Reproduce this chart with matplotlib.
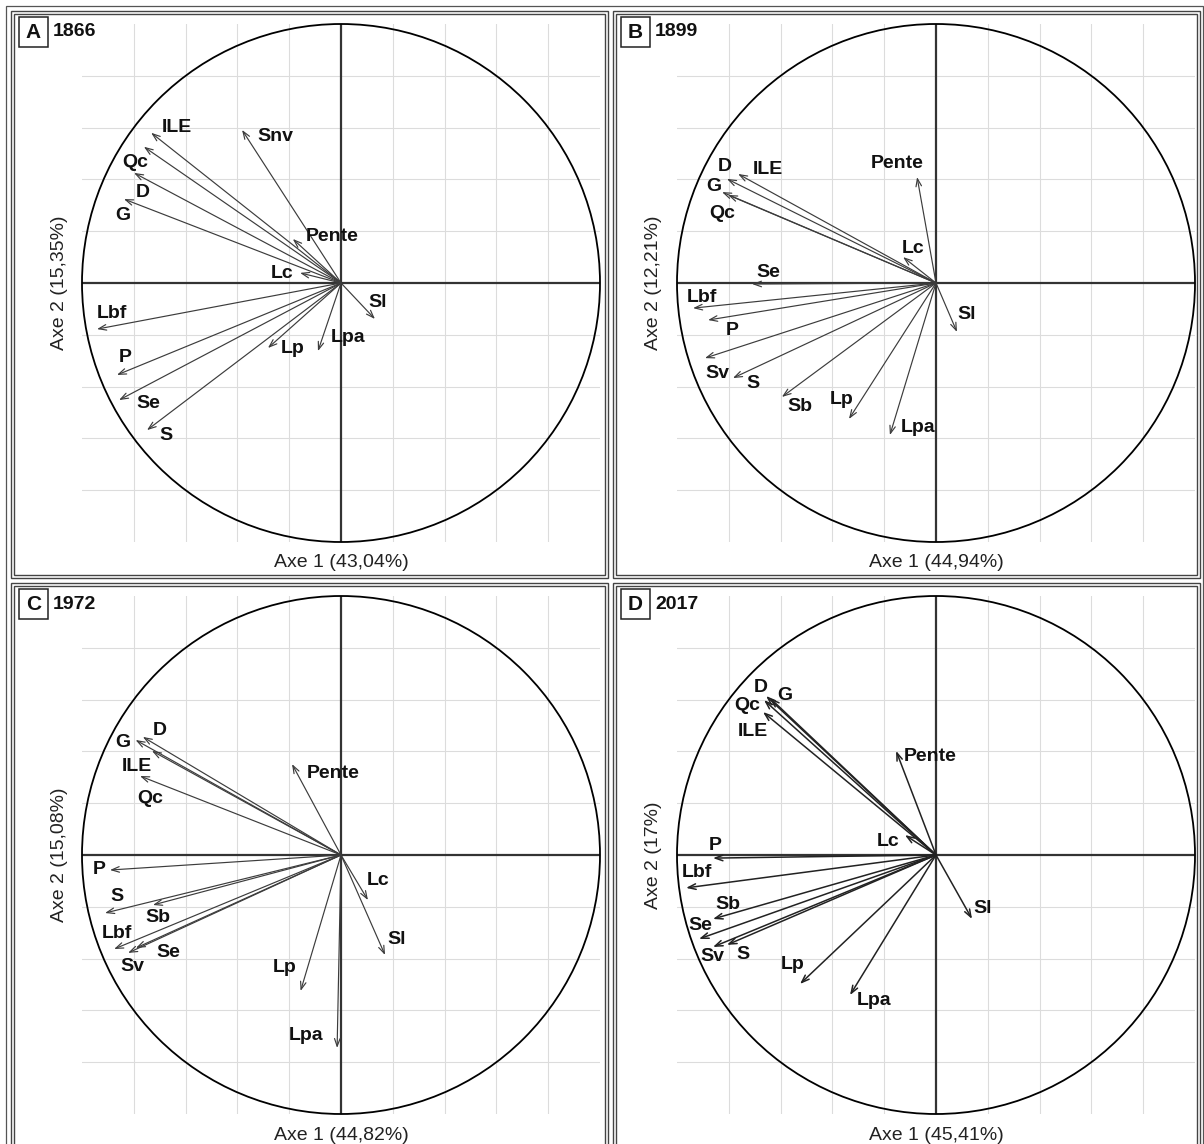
import numpy as np
import matplotlib
matplotlib.use("Agg")
import matplotlib.pyplot as plt
from matplotlib.patches import Rectangle, Circle

plt.rcParams['font.family'] = ['Liberation Sans', 'DejaVu Sans']

# ---- data (coordonnees des variables sur les axes 1 et 2) ----
letters = ["A", "B", "C", "D"]
years = ["1866", "1899", "1972", "2017"]
axe1_labels = ["Axe 1 (43,04%)", "Axe 1 (44,94%)", "Axe 1 (44,82%)", "Axe 1 (45,41%)"]
axe2_labels = ["Axe 2 (15,35%)", "Axe 2 (12,21%)", "Axe 2 (15,08%)", "Axe 2 (17%)"]

vars_a = ["ILE", "Snv", "Qc", "D", "G", "Pente", "Lc", "Sl", "Lpa", "Lp", "Lbf", "P", "Se", "S"]
x_a = [-0.733, -0.382, -0.761, -0.799, -0.838, -0.186, -0.158, 0.131, -0.089, -0.282, -0.942, -0.865, -0.857, -0.749]
y_a = [0.580, 0.591, 0.526, 0.425, 0.324, 0.170, 0.039, -0.139, -0.263, -0.251, -0.178, -0.355, -0.452, -0.568]

vars_b = ["ILE", "D", "G", "Qc", "Pente", "Lc", "Se", "Lbf", "P", "Sv", "S", "Sb", "Lp", "Lpa", "Sl"]
x_b = [-0.764, -0.807, -0.826, -0.803, -0.073, -0.127, -0.710, -0.938, -0.880, -0.892, -0.784, -0.595, -0.336, -0.178, 0.081]
y_b = [0.421, 0.402, 0.351, 0.340, 0.409, 0.100, -0.004, -0.097, -0.143, -0.290, -0.367, -0.440, -0.525, -0.587, -0.189]

vars_c = ["D", "G", "ILE", "Qc", "Pente", "P", "S", "Sb", "Lbf", "Sv", "Se", "Lc", "Sl", "Lp", "Lpa"]
x_c = [-0.765, -0.793, -0.730, -0.776, -0.189, -0.892, -0.911, -0.726, -0.876, -0.822, -0.792, 0.104, 0.170, -0.156, -0.015]
y_c = [0.456, 0.444, 0.402, 0.305, 0.351, -0.058, -0.224, -0.193, -0.363, -0.378, -0.359, -0.174, -0.386, -0.525, -0.745]

vars_d = ["D", "G", "Qc", "ILE", "Pente", "Lc", "P", "Lbf", "Sb", "Se", "Sv", "S", "Lp", "Lpa", "Sl"]
x_d = [-0.656, -0.641, -0.664, -0.668, -0.154, -0.120, -0.861, -0.965, -0.861, -0.915, -0.861, -0.807, -0.525, -0.332, 0.139]
y_d = [0.614, 0.606, 0.598, 0.552, 0.402, 0.077, -0.012, -0.127, -0.247, -0.324, -0.355, -0.347, -0.498, -0.541, -0.247]

panels = [(vars_a, x_a, y_a), (vars_b, x_b, y_b), (vars_c, x_c, y_c), (vars_d, x_d, y_d)]

# ---- placement des etiquettes (decalage en pixels depuis la pointe) ----
offsets = [
    {"ILE": (26, 5), "Snv": (33, -7), "Qc": (-9, -16), "D": (9, -20), "G": (-1, -16),
     "Pente": (39, 2), "Lc": (-18, -1), "Sl": (3, 17), "Lpa": (30, 14), "Lp": (25, 0),
     "Lbf": (15, 16), "P": (8, 17), "Se": (29, -3), "S": (19, -5)},
    {"ILE": (30, 4), "D": (-2, 12), "G": (-8, 6), "Qc": (-6, -19), "Pente": (-20, 14),
     "Lc": (10, 9), "Se": (16, 12), "Lbf": (9, 11), "P": (24, -10), "Sv": (12, -15),
     "S": (20, -5), "Sb": (18, -10), "Lp": (-7, 19), "Lpa": (28, 8), "Sl": (10, 17)},
    {"D": (17, 6), "G": (-13, -2), "ILE": (-15, -16), "Qc": (10, -22), "Pente": (41, -9),
     "P": (-11, 1), "S": (12, 17), "Sb": (5, -13), "Lbf": (3, 16), "Sv": (4, -14),
     "Se": (32, -5), "Lc": (10, 20), "Sl": (12, 15), "Lp": (-16, 23), "Lpa": (-31, 12)},
    {"D": (-5, 8), "G": (15, 3), "Qc": (-17, -5), "ILE": (-10, -19), "Pente": (34, -6),
     "Lc": (-17, -6), "P": (2, 13), "Lbf": (11, 15), "Sb": (15, 14), "Se": (1, 13),
     "Sv": (-1, -10), "S": (16, -10), "Lp": (-7, 19), "Lpa": (24, -5), "Sl": (11, 10)},
]

W, H = 1204, 1144
R = 259
centers = [(341, 283), (936, 283), (341, 855), (936, 855)]
frames = [(11, 11, 608, 578), (613, 11, 1200, 578), (11, 583, 608, 1148), (613, 583, 1200, 1148)]


def fx(x):
    return x / W


def fy(y):
    return 1 - y / H


fig = plt.figure(figsize=(W / 100, H / 100), dpi=100)
fig.patch.set_facecolor("white")

# cadre general
fig.add_artist(Rectangle((fx(6), fy(1150)), fx(1203) - fx(6), fy(6) - fy(1150),
                         transform=fig.transFigure, fill=False, ec="#555555", lw=0.9))

for i, (names, xs, ys) in enumerate(panels):
    cx, cy = centers[i]
    x0, y0, x1, y1 = frames[i]
    for d in (0, 3):
        fig.add_artist(Rectangle((fx(x0 + d), fy(y1 - d)), fx(x1 - d) - fx(x0 + d), fy(y0 + d) - fy(y1 - d),
                                 transform=fig.transFigure, fill=False, ec="#444444", lw=1.0))

    ax = fig.add_axes([fx(cx - R), fy(cy + R), 2 * R / W, 2 * R / H])
    ax.set_xlim(-1, 1)
    ax.set_ylim(-1, 1)
    ax.axis("off")

    # grille
    for v in np.arange(-0.8, 0.81, 0.2):
        if abs(v) < 1e-9:
            continue
        ax.plot([v, v], [-1, 1], color="#dcdcdc", lw=0.8, zorder=1)
        ax.plot([-1, 1], [v, v], color="#dcdcdc", lw=0.8, zorder=1)
    ax.plot([-1, 1], [0, 0], color="#333333", lw=1.6, zorder=2)
    ax.plot([0, 0], [-1, 1], color="#333333", lw=1.6, zorder=2)
    ax.add_patch(Circle((0, 0), 1, fill=False, ec="black", lw=1.3, zorder=3, clip_on=False))

    lw = 1.1 if i == 3 else 0.85
    col = "#222222" if i == 3 else "#3c3c3c"
    for name, x, y in zip(names, xs, ys):
        ax.annotate("", xy=(x, y), xytext=(0, 0),
                    arrowprops=dict(arrowstyle="->,head_length=0.55,head_width=0.2",
                                    color=col, lw=lw, shrinkA=0, shrinkB=0), zorder=4)
        dx, dy = offsets[i][name]
        ax.annotate(name, xy=(x, y), xytext=(dx, dy), textcoords="offset pixels",
                    ha="center", va="center", fontsize=14, fontweight="bold",
                    color="#111111", zorder=5, annotation_clip=False)

    # titres des axes
    fig.text(fx(cx), fy(cy + 280), axe1_labels[i], ha="center", va="center", fontsize=14, color="#222222")
    fig.text(fx(cx - 282), fy(cy), axe2_labels[i], ha="center", va="center", rotation=90,
             fontsize=14, color="#222222")

    # lettre et annee
    bx0 = x0 + 8
    by0 = y0 + 6
    fig.add_artist(Rectangle((fx(bx0), fy(by0 + 30)), 29 / W, 30 / H, transform=fig.transFigure,
                             fill=False, ec="#222222", lw=1.1))
    fig.text(fx(bx0 + 14.5), fy(by0 + 15), letters[i], ha="center", va="center",
             fontsize=15, fontweight="bold", color="#111111")
    fig.text(fx(bx0 + 34), fy(by0 + 15), years[i], ha="left", va="center",
             fontsize=14, fontweight="bold", color="#111111")

fig.savefig("out.png", dpi=100, facecolor="white")
